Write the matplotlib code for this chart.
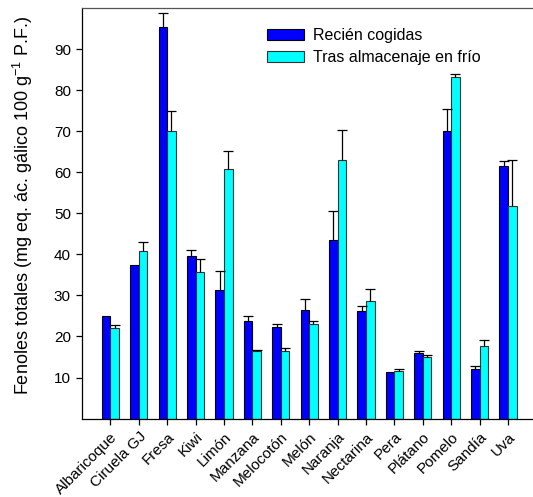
import numpy as np
import matplotlib
matplotlib.use('Agg')
import matplotlib.pyplot as plt

plt.rcParams['font.family'] = ['Liberation Sans', 'DejaVu Sans']

frutas = ['Albaricoque', 'Ciruela GJ', 'Fresa', 'Kiwi', 'Limón', 'Manzana',
          'Melocotón', 'Melón', 'Naranja', 'Nectarina', 'Pera', 'Plátano',
          'Pomelo', 'Sandía', 'Uva']

# fenoles totales (mg eq. ac. galico / 100 g P.F.)
recien = [25.1, 37.5, 95.3, 39.7, 31.2, 23.8, 22.3, 26.4, 43.5, 26.2,
          11.3, 15.9, 70.0, 12.1, 61.6]
recien_err = [0.0, 0.0, 3.5, 1.4, 4.7, 1.1, 0.8, 2.7, 7.0, 1.2,
              0.0, 0.5, 5.3, 0.7, 1.2]
frio = [22.0, 40.8, 70.0, 35.6, 60.9, 16.5, 16.4, 23.0, 63.1, 28.6,
        11.5, 15.0, 83.3, 17.6, 51.7]
frio_err = [0.8, 2.2, 4.8, 3.3, 4.3, 0.2, 0.8, 0.8, 7.3, 3.0,
            0.6, 0.5, 0.7, 1.6, 11.4]

x = np.arange(len(frutas))
w = 0.3

fig = plt.figure(figsize=(5.33, 4.97), dpi=100)
# el eje se sale por la derecha de la figura
ax = fig.add_axes([82 / 533, 78.4 / 497, 28.4 * 16.5 / 533, 410.6 / 497])
for s in ax.spines.values():
    s.set_visible(False)
# marco: izquierda y abajo negros, arriba gris, sin lado derecho
ax.plot([0, 0], [0, 1], color='black', lw=0.9, transform=ax.transAxes, clip_on=False, zorder=4)
ax.plot([0, 1], [0, 0], color='black', lw=0.9, transform=ax.transAxes, clip_on=False, zorder=4)
ax.plot([0, 1], [1, 1], color='#555555', lw=0.9, transform=ax.transAxes, clip_on=False, zorder=4)


def barras(xpos, val, err, color, edge, label):
    val = np.asarray(val)
    err = np.asarray(err)
    ax.bar(xpos, val, w, color=color, edgecolor=edge, linewidth=0.8, label=label, zorder=2)
    # error solo hacia arriba, con tapa solo arriba
    con = err > 0
    ax.vlines(xpos[con], val[con], val[con] + err[con], color='black', lw=0.9, zorder=3)
    ax.plot(xpos[con], val[con] + err[con], ls='none', marker='_', ms=7,
            mew=0.9, color='black', zorder=3)


barras(x - w / 2, recien, recien_err, '#0000ff', 'black', 'Recién cogidas')
barras(x + w / 2, frio, frio_err, '#00ffff', '#333333', 'Tras almacenaje en frío')

ax.set_xlim(-1, 15.5)
ax.set_ylim(0, 100)
ax.set_yticks(np.arange(10, 100, 10))
ax.set_xticks(x)
ax.set_xticklabels(frutas, rotation=45, ha='right', va='top', rotation_mode='anchor')
ax.tick_params(axis='both', direction='out', length=4.5, width=0.9, labelsize=11,
               colors='black', pad=3.5)

ax.set_ylabel(r'Fenoles totales (mg eq. ác. gálico 100 g$^{\mathregular{-1}}$ P.F.)',
              fontsize=13)
ax.yaxis.set_label_coords(-0.103 * 454.4 / (28.4 * 16.5), 0.518)

ax.legend(loc='upper left', bbox_to_anchor=(267 / 533, 1 - 28 / 497),
          bbox_transform=fig.transFigure,
          frameon=False, fontsize=11.5, handlelength=2.3, handleheight=0.75,
          handletextpad=0.6, labelspacing=0.45, borderpad=0, borderaxespad=0)

fig.savefig('out.png', dpi=100, facecolor='white')
